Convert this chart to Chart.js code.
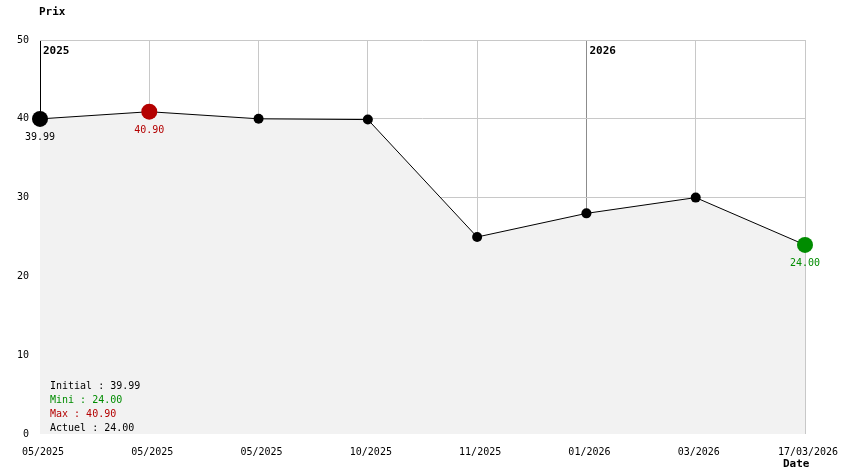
<!DOCTYPE html>
<html>
<head>
<meta charset="utf-8">
<script src="https://cdn.jsdelivr.net/npm/chart.js@4/dist/chart.umd.min.js"></script>
<style>
  html, body { margin: 0; padding: 0; background: #fff; }
  #wrap { width: 844px; height: 474px; position: relative; }
</style>
</head>
<body>
<div id="wrap"><canvas id="priceChart"></canvas></div>
<script>
// Chart data
const dateLabels = ['05/2025', '05/2025', '05/2025', '10/2025', '11/2025', '01/2026', '03/2026', '17/03/2026'];
const prices = [39.99, 40.90, 40.00, 39.90, 25.00, 28.00, 30.00, 24.00];
const yTicks = [0, 10, 20, 30, 40, 50];
const yearIndexes = [0, 5];
const yearLabels = ['2025', '2026'];
const statNames = ['Initial', 'Mini', 'Max', 'Actuel'];
const statValues = [39.99, 24.00, 40.90, 24.00];

const MONO = "'DejaVu Sans Mono', 'Liberation Mono', monospace";
const RED = '#b40000';
const GREEN = '#008c00';

// find special points
const maxIdx = prices.indexOf(Math.max(...prices));
const lastIdx = prices.length - 1;

function pointColor(i) {
    if (i === maxIdx) return RED;
    if (i === lastIdx) return GREEN;
    return '#000';
}
function pointSize(i) {
    return (i === 0 || i === maxIdx || i === lastIdx) ? 8 : 5;
}

const statColors = ['#000', GREEN, RED, '#000'];

const overlayPlugin = {
    id: 'overlay',
    afterDatasetsDraw(chart) {
        const ctx = chart.ctx;
        const xs = chart.scales.x;
        const ys = chart.scales.y;
        const area = chart.chartArea;
        ctx.save();
        ctx.textBaseline = 'middle';

        // axis titles
        ctx.font = 'bold 11px ' + MONO;
        ctx.fillStyle = '#000';
        ctx.textAlign = 'left';
        ctx.fillText('Prix', area.left - 1, 12);
        ctx.fillText('Date', area.right - 22, 464);

        // year markers
        yearIndexes.forEach((idx, k) => {
            ctx.fillText(yearLabels[k], xs.getPixelForValue(idx) + 3, area.top + 11);
        });

        // value labels under first / max / last point
        ctx.font = '10px ' + MONO;
        ctx.textAlign = 'center';
        [0, maxIdx, lastIdx].forEach(i => {
            ctx.fillStyle = pointColor(i);
            ctx.fillText(prices[i].toFixed(2), xs.getPixelForValue(i), ys.getPixelForValue(prices[i]) + 19);
        });

        // stats box
        ctx.textAlign = 'left';
        statNames.forEach((name, i) => {
            ctx.fillStyle = statColors[i];
            ctx.fillText(name + ' : ' + statValues[i].toFixed(2), area.left + 10, area.bottom - 48 + i * 14);
        });
        ctx.restore();
    }
};

const ctx = document.getElementById('priceChart').getContext('2d');
new Chart(ctx, {
    type: 'line',
    data: {
        labels: dateLabels,
        datasets: [{
            data: prices,
            borderColor: '#000',
            borderWidth: 1,
            fill: 'origin',
            backgroundColor: '#f2f2f2',
            tension: 0,
            pointRadius: prices.map((v, i) => pointSize(i)),
            pointBackgroundColor: prices.map((v, i) => pointColor(i)),
            pointBorderWidth: 0
        }]
    },
    options: {
        responsive: true,
        maintainAspectRatio: false,
        animation: false,
        layout: { padding: { top: 40, right: 39, left: 0, bottom: 0 } },
        plugins: {
            legend: { display: false },
            tooltip: { enabled: false }
        },
        scales: {
            x: {
                offset: false,
                afterFit: s => { s.height = 40; s.paddingLeft = 0; s.paddingRight = 0; },
                border: { display: false },
                grid: {
                    drawTicks: false,
                    lineWidth: 1,
                    color: c => c.index === 0 ? '#000' : (yearIndexes.includes(c.index) ? '#8c8c8c' : '#c8c8c8')
                },
                ticks: {
                    padding: 12,
                    labelOffset: 3,
                    maxRotation: 0,
                    autoSkip: false,
                    color: '#000',
                    font: { family: MONO, size: 10 }
                }
            },
            y: {
                min: yTicks[0],
                max: yTicks[yTicks.length - 1],
                afterFit: s => { s.width = 40; },
                afterBuildTicks: s => { s.ticks = yTicks.map(v => ({ value: v })); },
                border: { display: false },
                grid: {
                    drawTicks: false,
                    lineWidth: 1,
                    color: c => c.tick && c.tick.value === 0 ? 'rgba(0,0,0,0)' : '#c8c8c8'
                },
                ticks: {
                    padding: 11,
                    color: '#000',
                    font: { family: MONO, size: 10 }
                }
            }
        }
    },
    plugins: [overlayPlugin]
});
</script>
</body>
</html>
